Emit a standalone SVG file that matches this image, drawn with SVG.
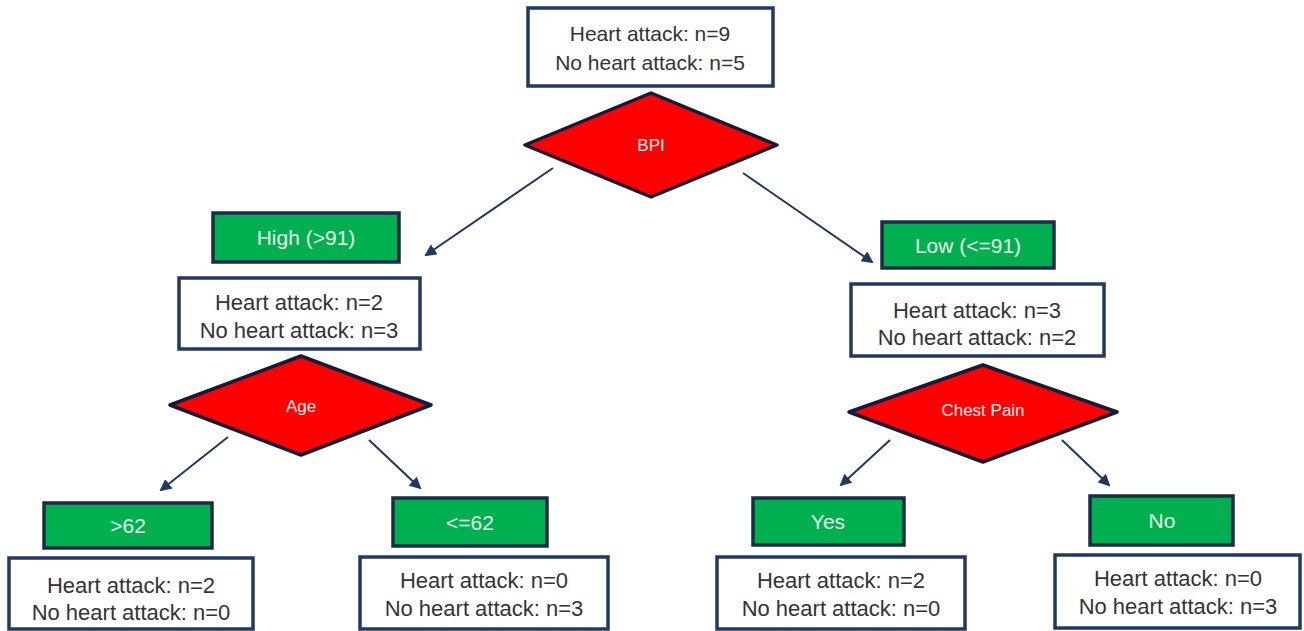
<svg xmlns="http://www.w3.org/2000/svg" width="1304" height="631" viewBox="0 0 1304 631">
<defs>
<style>
.box{fill:#ffffff;stroke:#1f3864;stroke-width:3.5}
.lbl{fill:#00b050;stroke:#1c2b47;stroke-width:3.5}
.dia{fill:#ff0000;stroke:#141a3a;stroke-width:3.5;stroke-linejoin:round}
.t{font-family:"Liberation Sans",Arial,sans-serif;font-size:22px;fill:#333333;text-anchor:middle}
.tt{font-family:"Liberation Sans",Arial,sans-serif;font-size:21px;fill:#333333;text-anchor:middle}
.g{font-family:"Liberation Sans",Arial,sans-serif;font-size:21px;fill:#e6fbe6;text-anchor:middle}
.d{font-family:"Liberation Sans",Arial,sans-serif;font-size:17px;fill:#fff0f0;text-anchor:middle}
.c{stroke:#1f3864;stroke-width:2;fill:none;marker-end:url(#ah)}
</style>
<marker id="ah" markerWidth="12" markerHeight="12" refX="10" refY="6" orient="auto" markerUnits="userSpaceOnUse">
<path d="M0,0 L12,6 L0,12 Z" fill="#1f3864"/>
</marker>
</defs>
<rect width="1304" height="631" fill="#ffffff"/>

<g id="connectors">
<line class="c" x1="553" y1="168" x2="426" y2="255"/>
<line class="c" x1="743" y1="173" x2="872" y2="262"/>
<line class="c" x1="228" y1="437" x2="161" y2="490"/>
<line class="c" x1="369" y1="440" x2="420" y2="488"/>
<line class="c" x1="890" y1="440" x2="841" y2="485"/>
<line class="c" x1="1062" y1="440" x2="1109" y2="485"/>
</g>

<g id="root">
<rect class="box" x="528" y="8" width="245" height="78"/>
<text class="tt" x="650" y="40.5">Heart attack: n=9</text>
<text class="tt" x="650" y="69.5">No heart attack: n=5</text>
</g>
<g id="bpi">
<polygon class="dia" points="651,93 777,145 651,197 525,145"/>
<text class="d" x="651" y="151">BPI</text>
</g>

<g id="high">
<rect class="lbl" x="213" y="213" width="186" height="49"/>
<text class="g" x="306" y="245">High (&gt;91)</text>
</g>
<g id="high-counts">
<rect class="box" x="179" y="278" width="241" height="71"/>
<text class="t" x="299" y="310">Heart attack: n=2</text>
<text class="t" x="299" y="338">No heart attack: n=3</text>
</g>
<g id="age">
<polygon class="dia" points="301,356 431,405 301,455 170,405"/>
<text class="d" x="301" y="412">Age</text>
</g>

<g id="gt62">
<rect class="lbl" x="44" y="503" width="168" height="45"/>
<text class="g" x="128" y="533">&gt;62</text>
</g>
<g id="gt62-counts">
<rect class="box" x="9" y="558" width="244" height="71"/>
<text class="t" x="131" y="593">Heart attack: n=2</text>
<text class="t" x="131" y="620">No heart attack: n=0</text>
</g>

<g id="le62">
<rect class="lbl" x="393" y="498" width="154" height="48"/>
<text class="g" x="470" y="530">&lt;=62</text>
</g>
<g id="le62-counts">
<rect class="box" x="360" y="557" width="248" height="72"/>
<text class="t" x="484" y="588">Heart attack: n=0</text>
<text class="t" x="484" y="616">No heart attack: n=3</text>
</g>

<g id="low">
<rect class="lbl" x="882" y="222" width="172" height="46"/>
<text class="g" x="968" y="253">Low (&lt;=91)</text>
</g>
<g id="low-counts">
<rect class="box" x="851" y="284" width="253" height="72"/>
<text class="t" x="977" y="318">Heart attack: n=3</text>
<text class="t" x="977" y="345">No heart attack: n=2</text>
</g>
<g id="chest">
<polygon class="dia" points="983,365 1117,412 983,462 849,412"/>
<text class="d" x="983" y="416">Chest Pain</text>
</g>

<g id="yes">
<rect class="lbl" x="753" y="498" width="151" height="47"/>
<text class="g" x="828" y="529">Yes</text>
</g>
<g id="yes-counts">
<rect class="box" x="717" y="557" width="248" height="72"/>
<text class="t" x="841" y="588">Heart attack: n=2</text>
<text class="t" x="841" y="616">No heart attack: n=0</text>
</g>

<g id="no">
<rect class="lbl" x="1090" y="496" width="143" height="49"/>
<text class="g" x="1162" y="528">No</text>
</g>
<g id="no-counts">
<rect class="box" x="1055" y="555" width="245" height="73"/>
<text class="t" x="1178" y="586">Heart attack: n=0</text>
<text class="t" x="1178" y="614">No heart attack: n=3</text>
</g>
</svg>
